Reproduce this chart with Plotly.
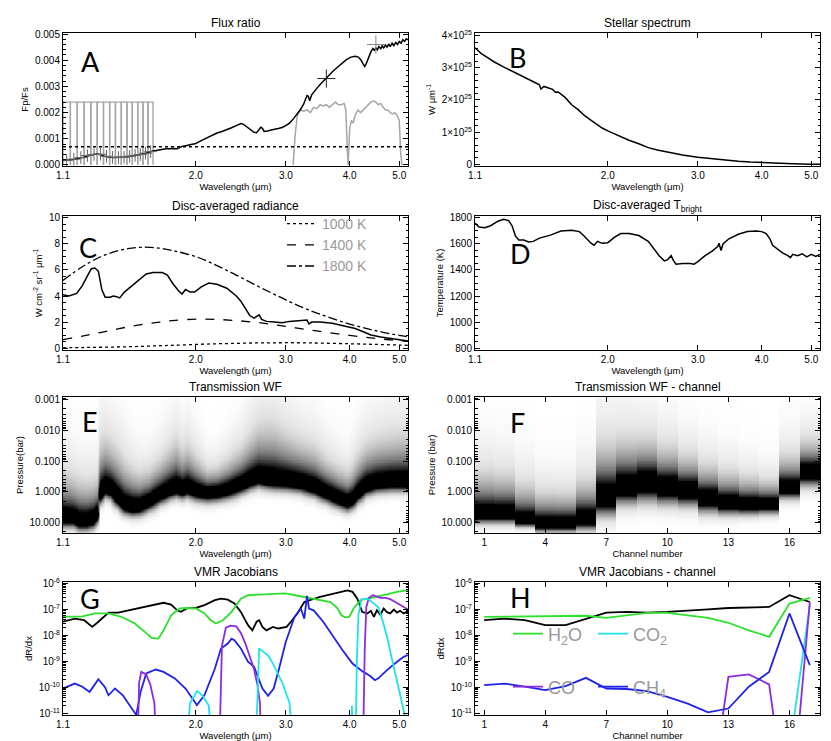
import numpy as np
import plotly.graph_objects as go

W, H = 831, 741

# ---------------- panel A : flux ratio ----------------
a_wave = [1.10, 1.13, 1.16, 1.20, 1.23, 1.26, 1.28, 1.30, 1.32, 1.35, 1.38, 1.41, 1.45, 1.50, 1.55,
          1.60, 1.65, 1.70, 1.75, 1.80, 1.84, 1.86, 1.88, 1.92, 1.96, 2.00, 2.05, 2.10, 2.15, 2.20,
          2.25, 2.30, 2.35, 2.40, 2.45, 2.48, 2.52, 2.56, 2.60, 2.63, 2.66, 2.68, 2.70, 2.72, 2.76,
          2.80, 2.85, 2.90, 2.95, 3.00, 3.05, 3.10, 3.15, 3.20, 3.25, 3.28, 3.30, 3.32, 3.34, 3.37,
          3.42, 3.48, 3.55, 3.62, 3.70, 3.78, 3.86, 3.94, 4.02, 4.10, 4.16, 4.21, 4.25, 4.28, 4.31,
          4.35, 4.40, 4.44, 4.47, 4.50, 4.53, 4.56, 4.60, 4.63, 4.66, 4.70, 4.73, 4.77, 4.80, 4.84,
          4.88, 4.92, 4.96, 5.00, 5.04, 5.08, 5.12, 5.16, 5.20]
a_flux = [0.00017, 0.00019, 0.00022, 0.00028, 0.00035, 0.00040, 0.00042, 0.00040, 0.00034, 0.00029,
          0.00028, 0.00028, 0.00030, 0.00034, 0.00039, 0.00045, 0.00053, 0.00059, 0.00062, 0.00063,
          0.00062, 0.00066, 0.00071, 0.00074, 0.00077, 0.00082, 0.00093, 0.00104, 0.00114, 0.00122,
          0.00128, 0.00134, 0.00142, 0.00150, 0.00158, 0.00155, 0.00145, 0.00133, 0.00125, 0.00123,
          0.00135, 0.00144, 0.00140, 0.00128, 0.00130, 0.00134, 0.00136, 0.00139, 0.00143, 0.00150,
          0.00160, 0.00175, 0.00192, 0.00210, 0.00232, 0.00250, 0.00265, 0.00262, 0.00245, 0.00268,
          0.00285, 0.00302, 0.00320, 0.00338, 0.00356, 0.00372, 0.00388, 0.00402, 0.00412, 0.00415,
          0.00412, 0.00400, 0.00385, 0.00376, 0.00388, 0.00410, 0.00432, 0.00445, 0.00438, 0.00447,
          0.00440, 0.00452, 0.00444, 0.00455, 0.00447, 0.00458, 0.00450, 0.00462, 0.00452, 0.00465,
          0.00456, 0.00468, 0.00460, 0.00472, 0.00465, 0.00478, 0.00472, 0.00482, 0.00478]
flux_level = 0.0007

chan_edges = [1.100, 1.137, 1.173, 1.210, 1.247, 1.283, 1.320, 1.357, 1.393, 1.430, 1.467, 1.503,
              1.540, 1.577, 1.613, 1.650]
chan_top = 0.0024
chan_wave = [1.118, 1.155, 1.192, 1.228, 1.265, 1.302, 1.338, 1.375, 1.412, 1.448, 1.485, 1.522,
             1.558, 1.595, 1.632]
chan_flux = [0.00018, 0.00022, 0.00028, 0.00036, 0.00040, 0.00041, 0.00033, 0.00029, 0.00028,
             0.00029, 0.00033, 0.00037, 0.00040, 0.00045, 0.00051]
irac_wave = [3.6, 4.5]
irac_flux = [0.0033, 0.0046]

f1_wave = [3.10, 3.13, 3.16, 3.20, 3.25, 3.30, 3.35, 3.40, 3.45, 3.50, 3.55, 3.60, 3.65, 3.70,
           3.75, 3.80, 3.85, 3.90, 3.93, 3.96, 3.98]
f1_resp = [0.0, 0.0012, 0.0019, 0.0021, 0.00205, 0.0021, 0.0020, 0.0022, 0.00215, 0.0023, 0.00225,
           0.0023, 0.0022, 0.0023, 0.0024, 0.0023, 0.0023, 0.00235, 0.0021, 0.0004, 0.0]
f2_wave = [3.97, 4.00, 4.03, 4.06, 4.10, 4.15, 4.20, 4.25, 4.30, 4.35, 4.40, 4.45, 4.50, 4.55,
           4.60, 4.65, 4.70, 4.75, 4.80, 4.85, 4.90, 4.95, 5.00, 5.03, 5.06]
f2_resp = [0.0, 0.0014, 0.0017, 0.0016, 0.0019, 0.0021, 0.0020, 0.0021, 0.0022, 0.0023, 0.0024,
           0.00245, 0.0024, 0.0023, 0.00235, 0.0022, 0.0021, 0.0021, 0.0020, 0.00195, 0.0020,
           0.0019, 0.0017, 0.0005, 0.0]

# ---------------- panel B : stellar spectrum (units of 1e25) ----------------
b_wave = [1.10, 1.13, 1.16, 1.20, 1.25, 1.30, 1.35, 1.40, 1.45, 1.47, 1.48, 1.50, 1.53, 1.56, 1.58,
          1.60, 1.65, 1.70, 1.75, 1.80, 1.85, 1.90, 1.95, 2.00, 2.10, 2.20, 2.30, 2.40, 2.50, 2.60,
          2.70, 2.80, 3.00, 3.20, 3.40, 3.60, 3.80, 4.00, 4.30, 4.60, 5.00, 5.20]
b_flux = [3.62, 3.45, 3.33, 3.18, 3.03, 2.90, 2.78, 2.65, 2.52, 2.47, 2.34, 2.42, 2.37, 2.33, 2.24,
          2.25, 2.08, 1.85, 1.70, 1.52, 1.38, 1.25, 1.13, 1.04, 0.88, 0.75, 0.64, 0.52, 0.45, 0.39,
          0.34, 0.29, 0.22, 0.17, 0.13, 0.10, 0.075, 0.055, 0.035, 0.02, 0.008, 0.005]

# ---------------- panel C : disc-averaged radiance ----------------
c_wave = [1.10, 1.13, 1.17, 1.20, 1.23, 1.25, 1.27, 1.29, 1.31, 1.33, 1.36, 1.38, 1.40, 1.42, 1.45,
          1.50, 1.55, 1.60, 1.65, 1.72, 1.76, 1.80, 1.85, 1.88, 1.91, 1.95, 1.99, 2.05, 2.12, 2.20,
          2.30, 2.40, 2.45, 2.50, 2.55, 2.60, 2.63, 2.66, 2.69, 2.75, 2.85, 2.95, 3.05, 3.15, 3.25,
          3.30, 3.33, 3.37, 3.50, 3.70, 3.90, 4.10, 4.25, 4.40, 4.60, 4.80, 5.00, 5.20]
c_rad = [4.1, 4.0, 4.2, 4.8, 5.6, 6.1, 6.15, 5.9, 4.5, 3.9, 3.9, 4.0, 3.95, 3.85, 4.3,
         4.8, 5.3, 5.7, 5.8, 5.8, 5.6, 5.0, 4.4, 4.15, 4.5, 4.3, 4.3, 4.7, 5.0, 4.9,
         4.6, 4.0, 3.6, 3.0, 2.5, 2.3, 2.4, 2.55, 2.2, 2.05, 2.0, 1.95, 2.05, 2.1, 2.1,
         2.15, 1.85, 2.0, 2.0, 1.9, 1.7, 1.5, 1.25, 1.0, 0.85, 0.75, 0.65, 0.55]
bb_wave = [1.1, 1.2, 1.3, 1.4, 1.5, 1.6, 1.7, 1.8, 2.0, 2.2, 2.4, 2.6, 2.8, 3.0, 3.25, 3.5,
           4.0, 4.5, 5.0, 5.2]
bb_1000 = [0.02, 0.04, 0.06, 0.08, 0.11, 0.14, 0.18, 0.21, 0.28, 0.33, 0.36, 0.39, 0.40, 0.41,
           0.40, 0.38, 0.33, 0.28, 0.23, 0.21]
bb_1400 = [0.65, 0.92, 1.19, 1.45, 1.68, 1.86, 2.0, 2.11, 2.22, 2.20, 2.11, 1.99, 1.84, 1.66,
           1.46, 1.28, 0.97, 0.74, 0.565, 0.51]
bb_1800 = [5.2, 6.25, 7.0, 7.45, 7.68, 7.75, 7.68, 7.5, 7.03, 6.34, 5.61, 4.9, 4.27, 3.7,
           3.09, 2.6, 1.84, 1.33, 0.97, 0.87]

# ---------------- panel D : brightness temperature ----------------
d_wave = [1.10, 1.12, 1.15, 1.18, 1.22, 1.25, 1.28, 1.30, 1.32, 1.34, 1.37, 1.40, 1.43, 1.47, 1.55,
          1.62, 1.70, 1.76, 1.80, 1.85, 1.88, 1.91, 1.95, 2.00, 2.06, 2.12, 2.20, 2.30, 2.40, 2.45,
          2.52, 2.58, 2.62, 2.66, 2.69, 2.72, 2.80, 2.90, 2.95, 3.00, 3.10, 3.20, 3.28, 3.30, 3.33,
          3.36, 3.45, 3.60, 3.75, 3.90, 4.00, 4.08, 4.15, 4.20, 4.30, 4.40, 4.50, 4.55, 4.60, 4.70,
          4.80, 4.90, 5.00, 5.10, 5.20]
d_temp = [1760, 1730, 1725, 1740, 1775, 1790, 1780, 1740, 1660, 1630, 1630, 1615, 1620, 1645, 1670,
          1700, 1705, 1695, 1660, 1610, 1590, 1620, 1605, 1610, 1650, 1680, 1680, 1665, 1620, 1570,
          1510, 1470, 1480, 1510, 1470, 1445, 1450, 1450, 1445, 1465, 1510, 1545, 1580, 1605, 1550,
          1600, 1640, 1675, 1695, 1700, 1695, 1680, 1640, 1590, 1560, 1530, 1510, 1495, 1520, 1510,
          1525, 1500, 1520, 1505, 1520]

# ---------------- panel E : transmission weighting functions (log10 bar) ----------------
e_wave = [1.10, 1.15, 1.18, 1.22, 1.26, 1.28, 1.30, 1.33, 1.36, 1.40, 1.45, 1.50, 1.55, 1.62, 1.70,
          1.78, 1.83, 1.88, 1.92, 2.00, 2.10, 2.20, 2.30, 2.45, 2.55, 2.65, 2.75, 2.85, 3.00, 3.20,
          3.40, 3.60, 3.80, 3.95, 4.05, 4.15, 4.30, 4.50, 4.80, 5.20]
e_core = [0.81, 0.81, 0.92, 0.92, 0.85, 0.7, 0.05, -0.16, -0.1, 0.16, 0.38, 0.45, 0.43, 0.27, 0.05,
          -0.1, -0.16, -0.1, -0.16, -0.05, 0.0, -0.03, -0.1, -0.27, -0.4, -0.49, -0.43, -0.4, -0.38,
          -0.32, -0.18, 0.0, 0.18, 0.29, 0.22, 0.0, -0.22, -0.32, -0.36, -0.36]
e_top = [-1.35, -1.13, -1.0, -0.92, -0.95, -1.0, -2.43, -2.54, -2.35, -2.1, -1.68, -1.35, -1.13, -1.2,
         -1.6, -2.1, -2.43, -2.0, -2.2, -1.68, -1.13, -1.19, -1.5, -2.0, -2.54, -2.97, -3.06, -3.06,
         -2.65, -2.32, -2.1, -1.6, -1.3, -1.13, -1.35, -1.8, -2.2, -2.38, -2.54, -2.65]
e_depth = 0.6

# ---------------- panel F : channel weighting functions (log10 bar) ----------------
channels = list(range(1, 18))
f_core = [0.7, 0.7, 0.92, 1.03, 1.03, 0.86, 0.11, -0.22, -0.38, -0.22, -0.1, 0.16, 0.32, 0.38,
          0.38, -0.16, -0.7]
f_top = [-1.3, -1.19, -0.81, -0.49, -0.46, -1.0, -2.43, -2.49, -2.43, -2.1, -1.73, -1.4, -1.13,
         -0.92, -0.76, -1.68, -2.16]
f_bottom = [1.25, 1.25, 1.3, 1.5, 1.5, 1.5, 1.24, 0.83, 0.8, 0.83, 0.85, 1.03, 1.03, 1.0, 0.95,
            0.49, 0.16]

# ---------------- panel G : VMR jacobians (log10 dR/dx) ----------------
gk_wave = [1.10, 1.16, 1.21, 1.255, 1.29, 1.35, 1.41, 1.48, 1.56, 1.66, 1.73, 1.79, 1.84, 1.87, 1.93,
           2.00, 2.08, 2.18, 2.24, 2.31, 2.38, 2.45, 2.53, 2.58, 2.63, 2.66, 2.70, 2.75, 2.83, 2.90,
           3.01, 3.07, 3.16, 3.26, 3.35, 3.50, 3.67, 3.85, 3.96, 4.05, 4.14, 4.23, 4.33, 4.40, 4.46,
           4.52, 4.59, 4.66, 4.73, 4.80, 4.88, 4.95, 5.02, 5.10, 5.20]
gk_log = [-7.47, -7.35, -7.41, -7.67, -7.47, -7.12, -7.12, -7.03, -6.94, -6.81, -6.74, -6.81, -7.03,
          -7.09, -6.94, -6.94, -6.83, -6.64, -6.58, -6.62, -6.77, -7.09, -7.6, -7.8, -7.47, -7.41,
          -7.67, -7.8, -7.67, -7.73, -7.67, -7.47, -7.15, -6.71, -6.64, -6.51, -6.42, -6.32, -6.26,
          -6.32, -6.58, -7.09, -7.15, -7.05, -7.28, -7.03, -7.2, -6.96, -7.1, -7.15, -7.0, -7.12,
          -7.05, -7.15, -7.05]
gg_wave = [1.10, 1.20, 1.27, 1.35, 1.43, 1.52, 1.59, 1.64, 1.69, 1.73, 1.79, 1.86, 1.93, 2.00, 2.08,
           2.14, 2.19, 2.26, 2.35, 2.45, 2.53, 2.69, 2.83, 2.99, 3.13, 3.26, 3.45, 3.67, 3.79, 3.85,
           3.92, 3.99, 4.07, 4.20, 4.33, 4.52, 4.73, 4.95, 5.10, 5.20]
gg_log = [-7.28, -7.26, -7.15, -7.15, -7.28, -7.54, -7.86, -8.09, -8.12, -7.8, -7.22, -6.96, -6.94,
          -6.96, -7.15, -7.41, -7.54, -7.41, -7.09, -6.58, -6.45, -6.42, -6.38, -6.38, -6.45, -6.51,
          -6.6, -6.71, -6.96, -7.22, -7.3, -7.28, -6.96, -6.64, -6.58, -6.51, -6.42, -6.32, -6.26,
          -6.25]
gb_wave = [1.10, 1.16, 1.20, 1.24, 1.29, 1.33, 1.35, 1.39, 1.44, 1.49, 1.53, 1.56, 1.60, 1.67, 1.73,
           1.82, 1.91, 1.99, 2.01, 2.08, 2.18, 2.24, 2.31, 2.35, 2.38, 2.45, 2.53, 2.60, 2.65, 2.70,
           2.77, 2.84, 2.91, 3.00, 3.12, 3.21, 3.26, 3.30, 3.33, 3.40, 3.55, 3.70, 3.87, 4.05, 4.25,
           4.38, 4.48, 4.55, 4.73, 4.95, 5.10, 5.20]
gb_log = [-10.04, -9.85, -9.97, -10.17, -9.68, -10.0, -10.3, -10.04, -10.3, -10.74, -11.06, -10.17,
          -9.46, -9.31, -9.4, -9.65, -10.04, -10.55, -10.68, -10.29, -9.27, -8.5, -8.31, -8.12, -8.18,
          -8.5, -9.01, -9.2, -9.59, -10.04, -10.32, -10.04, -9.27, -8.24, -7.28, -6.96, -7.35, -6.47,
          -6.96, -7.03, -7.47, -7.99, -8.56, -9.08, -9.4, -9.55, -9.72, -9.65, -9.33, -9.01, -8.82,
          -8.75]
gp_wave = [1.10, 1.535, 1.55, 1.565, 1.60, 1.63, 1.66, 1.68, 2.22, 2.25, 2.29, 2.34, 2.40, 2.45,
           2.50, 2.55, 2.60, 2.64, 2.67, 2.69, 4.24, 4.28, 4.31, 4.36, 4.44, 4.52, 4.60, 4.70, 4.80,
           4.90, 5.00, 5.10, 5.20]
gp_log = [-13, -13, -9.8, -9.4, -9.5, -9.9, -10.6, -13, -13, -8.4, -7.7, -7.62, -7.65, -7.9, -8.3,
          -8.8, -9.3, -9.9, -10.6, -13, -13, -8.5, -6.9, -6.55, -6.45, -6.5, -6.55, -6.55, -6.6,
          -6.7, -6.8, -6.9, -7.0]
gc_wave = [1.10, 1.90, 1.95, 2.01, 2.06, 2.12, 2.17, 2.60, 2.64, 2.66, 2.70, 2.78, 2.85, 2.95, 3.05,
           3.12, 4.02, 4.04, 4.06, 4.10, 4.13, 4.16, 4.22, 4.35, 4.45, 4.55, 4.65, 4.75, 4.85, 4.95,
           5.05, 5.15, 5.20]
gc_log = [-13, -13, -10.6, -10.14, -10.3, -10.7, -13, -13, -10.5, -8.5, -8.6, -8.8, -9.2, -9.8,
          -10.6, -13, -13, -10.7, -13, -13, -9.0, -7.2, -6.6, -6.6, -6.75, -6.9, -7.5, -8.2, -9.0,
          -9.8, -10.5, -11.2, -11.6]

# ---------------- panel H : channel jacobians (log10 dR/dx) ----------------
h_black = [-7.41, -7.35, -7.41, -7.6, -7.6, -7.37, -7.12, -7.09, -7.12, -7.09, -7.03, -6.99, -6.94,
           -6.92, -6.9, -6.45, -6.71]
h_h2o = [-7.28, -7.27, -7.27, -7.27, -7.26, -7.24, -7.32, -7.22, -7.13, -7.13, -7.22, -7.32, -7.51,
         -7.8, -8.05, -6.77, -6.55]
h_co2 = [-15, -15, -15, -15, -15, -15, -15, -15, -15, -15, -15, -15, -15, -15, -15, -12.4, -6.83]
h_co = [-15, -15, -15, -15, -15, -15, -15, -15, -15, -15, -15, -15, -9.59, -9.5, -9.88, -15.5, -6.71]
h_ch4 = [-9.91, -9.85, -9.97, -10.1, -9.95, -9.63, -10.04, -10.06, -10.14, -10.36, -10.62, -10.96,
         -10.81, -9.97, -9.4, -7.15, -9.14]

GREEN, CYAN, PURPLE, BLUE = "#2ee02e", "#1fe3ea", "#8c2be0", "#1f22e8"


def exp10(vals):
    return [10.0 ** v for v in vals]


# weighting-function grid on a log-pressure axis
lp_grid = np.arange(-3.2, 1.45, 0.025)


def wf_column(core, top, bottom):
    # exponential tail towards low pressure, gaussian cut-off towards the deep atmosphere
    su = (core - top) / 3.0
    wl = (bottom - core) / 1.98
    col = []
    for lp in lp_grid:
        d = lp - core
        if d > 0:
            col.append(np.exp(-(d / wl) ** 2))
        else:
            col.append(np.exp(d / su))
    return col


e_z = np.array([wf_column(c, t, c + e_depth) for c, t in zip(e_core, e_top)]).T
f_z = np.array([wf_column(c, t, b) for c, t, b in zip(f_core, f_top, f_bottom)]).T
p_grid = 10.0 ** lp_grid
gray_scale = [[0, "#ffffff"], [0.03, "#f2f2f2"], [0.1, "#e0e0e0"], [0.22, "#b4b4b4"],
              [0.38, "#7c7c7c"], [0.53, "#3a3a3a"], [0.66, "#000000"], [1, "#000000"]]

fig = go.Figure()

# A
box_x, box_y = [], []
for lo, hi in zip(chan_edges[:-1], chan_edges[1:]):
    box_x += [lo, lo, hi, hi, None]
    box_y += [0, chan_top, chan_top, 0, None]
fig.add_trace(go.Scatter(x=box_x, y=box_y, mode="lines", line=dict(color="#a6a6a6", width=1.4),
                         xaxis="x", yaxis="y", showlegend=False))
fig.add_trace(go.Scatter(x=f1_wave, y=f1_resp, mode="lines", line=dict(color="#a6a6a6", width=1.5),
                         xaxis="x", yaxis="y", showlegend=False))
fig.add_trace(go.Scatter(x=f2_wave, y=f2_resp, mode="lines", line=dict(color="#a6a6a6", width=1.5),
                         xaxis="x", yaxis="y", showlegend=False))
fig.add_trace(go.Scatter(x=[a_wave[0], a_wave[-1]], y=[flux_level, flux_level], mode="lines",
                         line=dict(color="black", width=1.5, dash="dot"),
                         xaxis="x", yaxis="y", showlegend=False))
fig.add_trace(go.Scatter(x=a_wave, y=a_flux, mode="lines", line=dict(color="black", width=1.5),
                         xaxis="x", yaxis="y", showlegend=False))
fig.add_trace(go.Scatter(x=chan_wave, y=chan_flux, mode="markers",
                         marker=dict(symbol="cross-thin", size=9, line=dict(color="#666666", width=1)),
                         xaxis="x", yaxis="y", showlegend=False))
fig.add_trace(go.Scatter(x=irac_wave, y=irac_flux, mode="markers",
                         marker=dict(symbol="cross-thin", size=13,
                                     line=dict(color=["#222222", "#888888"], width=1)),
                         xaxis="x", yaxis="y", showlegend=False))

# B
fig.add_trace(go.Scatter(x=b_wave, y=[v * 1e25 for v in b_flux], mode="lines",
                         line=dict(color="black", width=1.5), xaxis="x2", yaxis="y2", showlegend=False))

# C
fig.add_trace(go.Scatter(x=c_wave, y=c_rad, mode="lines", line=dict(color="black", width=1.5),
                         xaxis="x3", yaxis="y3", showlegend=False))
for name, vals, dash in [("1000 K", bb_1000, "dot"), ("1400 K", bb_1400, "dash"),
                         ("1800 K", bb_1800, "dashdot")]:
    fig.add_trace(go.Scatter(x=bb_wave, y=vals, mode="lines", name=name,
                             line=dict(color="black", width=1.3, dash=dash, shape="spline"),
                             xaxis="x3", yaxis="y3", legend="legend"))

# D
fig.add_trace(go.Scatter(x=d_wave, y=d_temp, mode="lines", line=dict(color="black", width=1.5),
                         xaxis="x4", yaxis="y4", showlegend=False))

# E, F
fig.add_trace(go.Heatmap(x=e_wave, y=p_grid, z=e_z, colorscale=gray_scale, zmin=0, zmax=1,
                         showscale=False, zsmooth="best", xaxis="x5", yaxis="y5", hoverinfo="skip"))
fig.add_trace(go.Heatmap(x=channels, y=p_grid, z=f_z, colorscale=gray_scale, zmin=0, zmax=1,
                         showscale=False, xaxis="x6", yaxis="y6", hoverinfo="skip"))

# G
for wv, lg, col in [(gk_wave, gk_log, "black"), (gg_wave, gg_log, GREEN), (gb_wave, gb_log, BLUE),
                    (gp_wave, gp_log, PURPLE), (gc_wave, gc_log, CYAN)]:
    fig.add_trace(go.Scatter(x=wv, y=exp10(lg), mode="lines", line=dict(color=col, width=1.8),
                             xaxis="x7", yaxis="y7", showlegend=False))

# H
fig.add_trace(go.Scatter(x=channels, y=exp10(h_black), mode="lines", line=dict(color="black", width=1.8),
                         xaxis="x8", yaxis="y8", showlegend=False))
for name, vals, col, leg in [("H<sub>2</sub>O", h_h2o, GREEN, "legend2"),
                             ("CO<sub>2</sub>", h_co2, CYAN, "legend2"),
                             ("CO", h_co, PURPLE, "legend3"),
                             ("CH<sub>4</sub>", h_ch4, BLUE, "legend3")]:
    fig.add_trace(go.Scatter(x=channels, y=exp10(vals), mode="lines", name=name,
                             line=dict(color=col, width=1.8), xaxis="x8", yaxis="y8", legend=leg))

# ---------------- layout ----------------
left_x, right_x = (55, 400), (467, 812)
rows = [(25, 158), (208, 342), (389, 525), (574, 707)]


def xdom(p):
    return [p[0] / W, p[1] / W]


def ydom(p):
    return [1 - p[1] / H, 1 - p[0] / H]


base = dict(showline=True, linecolor="black", linewidth=1, mirror="ticks", ticks="inside",
            ticklen=5, tickwidth=1, tickcolor="black", showgrid=False, zeroline=False,
            tickfont=dict(size=10, color="black"))
wl_ticks = dict(type="log", range=[np.log10(1.1), np.log10(5.2)], tickvals=[1.1, 2, 3, 4, 5],
                ticktext=["1.1", "2.0", "3.0", "4.0", "5.0"],
                title=dict(text="Wavelength (μm)", font=dict(size=9.5), standoff=2))
ch_ticks = dict(range=[0.55, 17.5], tickvals=[1, 4, 7, 10, 13, 16],
                title=dict(text="Channel number", font=dict(size=9.5), standoff=2))
p_minor = [m * 10.0 ** k for k in range(-4, 2) for m in range(2, 10)]
j_minor = [m * 10.0 ** k for k in range(-12, -5) for m in range(2, 10)]
p_ticks = dict(type="log", range=[np.log10(22), np.log10(0.00082)],
               tickvals=[0.001, 0.01, 0.1, 1, 10], ticktext=["0.001", "0.010", "0.100", "1.000", "10.000"],
               minor=dict(ticks="inside", ticklen=2.5, tickcolor="black", tickmode="array", tickvals=p_minor))
j_ticks = dict(type="log", range=[-11.06, -5.94], tickvals=[1e-11, 1e-10, 1e-9, 1e-8, 1e-7, 1e-6],
               ticktext=["10<sup>-11</sup>", "10<sup>-10</sup>", "10<sup>-9</sup>", "10<sup>-8</sup>",
                         "10<sup>-7</sup>", "10<sup>-6</sup>"],
               minor=dict(ticks="inside", ticklen=2.5, tickcolor="black", tickmode="array", tickvals=j_minor))


def ytitle(text):
    return dict(text=text, font=dict(size=9.5), standoff=4)


lay = dict(
    xaxis=dict(base, **wl_ticks, domain=xdom(left_x), anchor="y"),
    yaxis=dict(base, domain=ydom(rows[0]), anchor="x", range=[-0.00004, 0.00504], dtick=0.001,
               tickformat=".3f", title=ytitle("Fp/Fs"),
               minor=dict(ticks="inside", ticklen=2.5, tickcolor="black", dtick=0.0002)),
    xaxis2=dict(base, **wl_ticks, domain=xdom(right_x), anchor="y2"),
    yaxis2=dict(base, domain=ydom(rows[0]), anchor="x2", range=[-0.05e25, 4.08e25],
                tickvals=[0, 1e25, 2e25, 3e25, 4e25],
                ticktext=["0", "1×10<sup>25</sup>", "2×10<sup>25</sup>", "3×10<sup>25</sup>",
                          "4×10<sup>25</sup>"],
                title=ytitle("W μm<sup>-1</sup>"),
                minor=dict(ticks="inside", ticklen=2.5, tickcolor="black", dtick=0.2e25)),
    xaxis3=dict(base, **wl_ticks, domain=xdom(left_x), anchor="y3"),
    yaxis3=dict(base, domain=ydom(rows[1]), anchor="x3", range=[-0.15, 10.15], dtick=2,
                title=ytitle("W cm<sup>-2</sup> sr<sup>-1</sup> μm<sup>-1</sup>"),
                minor=dict(ticks="inside", ticklen=2.5, tickcolor="black", dtick=0.5)),
    xaxis4=dict(base, **wl_ticks, domain=xdom(right_x), anchor="y4"),
    yaxis4=dict(base, domain=ydom(rows[1]), anchor="x4", range=[785, 1815], dtick=200,
                title=ytitle("Temperature (K)"),
                minor=dict(ticks="inside", ticklen=2.5, tickcolor="black", dtick=50)),
    xaxis5=dict(base, **wl_ticks, domain=xdom(left_x), anchor="y5"),
    yaxis5=dict(base, **p_ticks, domain=ydom(rows[2]), anchor="x5", title=ytitle("Pressure(bar)")),
    xaxis6=dict(base, **ch_ticks, domain=xdom(right_x), anchor="y6"),
    yaxis6=dict(base, **p_ticks, domain=ydom(rows[2]), anchor="x6", title=ytitle("Pressure (bar)")),
    xaxis7=dict(base, **wl_ticks, domain=xdom(left_x), anchor="y7"),
    yaxis7=dict(base, **j_ticks, domain=ydom(rows[3]), anchor="x7", title=ytitle("dR/dx")),
    xaxis8=dict(base, **ch_ticks, domain=xdom(right_x), anchor="y8"),
    yaxis8=dict(base, **j_ticks, domain=ydom(rows[3]), anchor="x8", title=ytitle("dRdx")),
)

titles = [("Flux ratio", left_x, rows[0]), ("Stellar spectrum", right_x, rows[0]),
          ("Disc-averaged radiance", left_x, rows[1]),
          ("Disc-averaged T<sub>bright</sub>", right_x, rows[1]),
          ("Transmission WF", left_x, rows[2]), ("Transmission WF - channel", right_x, rows[2]),
          ("VMR Jacobians", left_x, rows[3]), ("VMR Jacobians - channel", right_x, rows[3])]
annotations = []
for text, xs, ys in titles:
    annotations.append(dict(text=text, xref="paper", yref="paper", x=(xs[0] + xs[1]) / 2 / W,
                            y=1 - (ys[0] - 10) / H, xanchor="center", yanchor="middle",
                            showarrow=False, font=dict(size=12, color="black")))
letters = [("A", 82, 53), ("B", 510, 50), ("C", 80, 240), ("D", 512, 245),
           ("E", 82, 413), ("F", 510, 415), ("G", 82, 590), ("H", 512, 589)]
for text, px, py in letters:
    annotations.append(dict(text=text, xref="paper", yref="paper", x=px / W, y=1 - py / H,
                            xanchor="center", yanchor="middle", showarrow=False,
                            font=dict(size=27, color="black", family="Lato")))

legend_font = dict(size=14, color="#999999", family="Liberation Sans")
fig.update_layout(
    **lay,
    annotations=annotations,
    width=W, height=H,
    margin=dict(l=0, r=0, t=0, b=0),
    template="none",
    paper_bgcolor="white", plot_bgcolor="white",
    font=dict(family="Liberation Sans", size=10, color="black"),
    legend=dict(x=274 / W, y=1 - 200 / H, xanchor="left", yanchor="top", font=legend_font,
                bgcolor="rgba(0,0,0,0)", borderwidth=0, tracegroupgap=0),
    legend2=dict(x=500 / W, y=1 - 626 / H, xanchor="left", yanchor="middle", orientation="h",
                 font=dict(size=18, color="#999999", family="Liberation Sans"),
                 bgcolor="rgba(0,0,0,0)", entrywidth=40),
    legend3=dict(x=500 / W, y=1 - 679 / H, xanchor="left", yanchor="middle", orientation="h",
                 font=dict(size=18, color="#999999", family="Liberation Sans"),
                 bgcolor="rgba(0,0,0,0)", entrywidth=40),
)

fig.write_html("out.html")
